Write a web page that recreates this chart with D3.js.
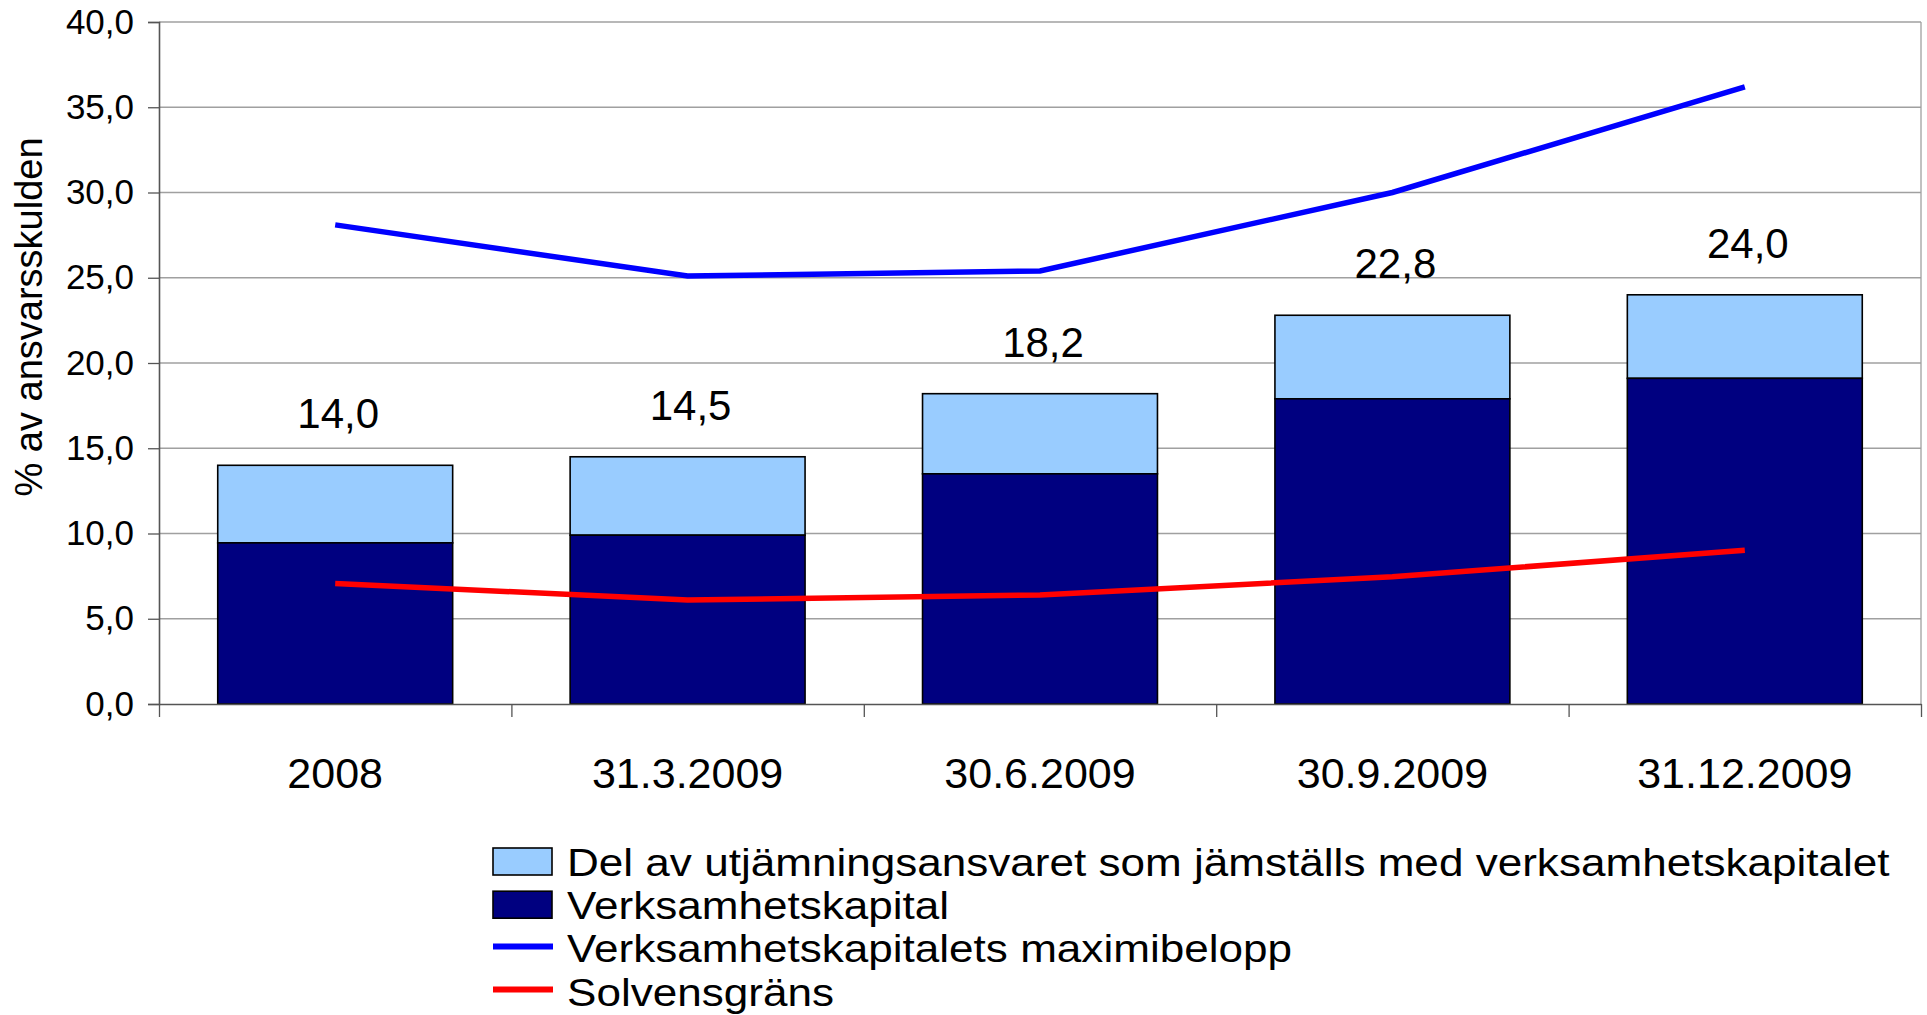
<!DOCTYPE html>
<html>
<head>
<meta charset="utf-8">
<script src="https://cdn.jsdelivr.net/npm/d3@7"></script>
<style>
  html, body { margin: 0; padding: 0; background: #fff; }
  svg { display: block; font-family: "Liberation Sans", Arial, Helvetica, sans-serif; }
</style>
</head>
<body>
<svg id="chart" width="1927" height="1015"></svg>
<script>
// ---- data ----
const categories = ["2008", "31.3.2009", "30.6.2009", "30.9.2009", "31.12.2009"];
const totalValues = [14.0, 14.5, 18.2, 22.8, 24.0];          // bar labels / stack totals
const verksamhetskapital = [9.45, 9.9, 13.5, 17.9, 19.1];    // dark bottom segment
const maximibelopp = [28.1, 25.1, 25.4, 30.0, 36.2];         // blue line
const solvensgrans = [7.07, 6.1, 6.4, 7.46, 9.02];           // red line
const yTicks = [0, 5, 10, 15, 20, 25, 30, 35, 40];
const seriesNames = [
  "Del av utjämningsansvaret som jämställs med verksamhetskapitalet",
  "Verksamhetskapital",
  "Verksamhetskapitalets maximibelopp",
  "Solvensgräns"
];
const yTitle = "% av ansvarsskulden";

// ---- layout ----
const plot = { left: 159, right: 1921, top: 22, bottom: 704 };
const colors = { light: "#99CCFF", dark: "#000080", blue: "#0000FF", red: "#FF0000" };

const svg = d3.select("#chart");

const x = d3.scaleBand().domain(categories).range([plot.left, plot.right])
  .paddingInner(1/3).paddingOuter(1/6);
const y = d3.scaleLinear().domain([0, 40]).range([plot.bottom, plot.top]);
const xb = d3.scaleLinear().domain([0, categories.length]).range([plot.left, plot.right]);

const fmt = v => v.toFixed(1).replace(".", ",");

// gridlines
svg.append("g").selectAll("line").data(yTicks.filter(d => d > 0)).join("line")
  .attr("x1", plot.left).attr("x2", plot.right)
  .attr("y1", d => y(d)).attr("y2", d => y(d))
  .attr("stroke", "#a0a0a0").attr("stroke-width", 1.3);
// right border
svg.append("line").attr("x1", plot.right).attr("x2", plot.right)
  .attr("y1", plot.top).attr("y2", plot.bottom)
  .attr("stroke", "#a0a0a0").attr("stroke-width", 1.3);

// stacked bars
const rows = categories.map((c, i) => ({
  cat: c, dark: verksamhetskapital[i], total: totalValues[i]
}));
const bars = svg.append("g");
bars.selectAll("rect.light").data(rows).join("rect").attr("class", "light")
  .attr("x", d => x(d.cat)).attr("width", x.bandwidth())
  .attr("y", d => y(d.total)).attr("height", d => y(d.dark) - y(d.total))
  .attr("fill", colors.light).attr("stroke", "#000").attr("stroke-width", 1.6);
bars.selectAll("rect.dark").data(rows).join("rect").attr("class", "dark")
  .attr("x", d => x(d.cat)).attr("width", x.bandwidth())
  .attr("y", d => y(d.dark)).attr("height", d => y(0) - y(d.dark))
  .attr("fill", colors.dark).attr("stroke", "#000").attr("stroke-width", 1.6);

// axes
const yAxis = d3.axisLeft(y).tickValues(yTicks).tickFormat(fmt).tickSize(11).tickPadding(14);
const gy = svg.append("g").attr("transform", `translate(${plot.left},0)`).call(yAxis);
gy.select(".domain").attr("stroke", "#555").attr("stroke-width", 1.6);
gy.selectAll(".tick line").attr("stroke", "#555").attr("stroke-width", 1.3);
gy.selectAll(".tick text").attr("font-size", 35).attr("fill", "#000")
  .attr("font-family", "Liberation Sans, Arial, sans-serif");

const xAxis = d3.axisBottom(xb).tickValues(d3.range(categories.length + 1))
  .tickFormat("").tickSize(13).tickSizeOuter(0);
const gx = svg.append("g").attr("transform", `translate(0,${plot.bottom})`).call(xAxis);
gx.select(".domain").attr("stroke", "#555").attr("stroke-width", 1.6);
gx.selectAll(".tick line").attr("stroke", "#555").attr("stroke-width", 1.3);

// category labels
svg.append("g").selectAll("text").data(categories).join("text")
  .attr("x", d => x(d) + x.bandwidth() / 2).attr("y", 788)
  .attr("text-anchor", "middle").attr("font-size", 43).attr("fill", "#000")
  .text(d => d);

// lines
const line = d3.line().x((d, i) => x(categories[i]) + x.bandwidth() / 2).y(d => y(d));
svg.append("path").datum(maximibelopp).attr("d", line)
  .attr("fill", "none").attr("stroke", colors.blue).attr("stroke-width", 5.5);
svg.append("path").datum(solvensgrans).attr("d", line)
  .attr("fill", "none").attr("stroke", colors.red).attr("stroke-width", 5.5);

// value labels
svg.append("g").selectAll("text").data(rows).join("text")
  .attr("x", d => x(d.cat) + x.bandwidth() / 2 + 3).attr("y", d => y(d.total) - 37)
  .attr("text-anchor", "middle").attr("font-size", 42).attr("fill", "#000")
  .text(d => fmt(d.total));

// y title
svg.append("text").attr("transform", "translate(42,317) rotate(-90)")
  .attr("text-anchor", "middle").attr("font-size", 38).attr("fill", "#000")
  .text(yTitle);

// legend
const legend = svg.append("g");
const lx = 493, ly0 = 861.5, lstep = 43.2;
seriesNames.forEach((name, i) => {
  const cy = ly0 + i * lstep;
  if (i < 2) {
    legend.append("rect").attr("x", lx).attr("y", cy - 13.5).attr("width", 59).attr("height", 27)
      .attr("fill", i === 0 ? colors.light : colors.dark).attr("stroke", "#000").attr("stroke-width", 1.6);
  } else {
    legend.append("line").attr("x1", lx).attr("x2", lx + 60).attr("y1", cy - 1.5).attr("y2", cy - 1.5)
      .attr("stroke", i === 2 ? colors.blue : colors.red).attr("stroke-width", 6);
  }
  legend.append("text").attr("transform", `translate(567,${cy + 14.5}) scale(1.16,1)`)
    .attr("font-size", 38).attr("fill", "#000").text(name);
});
</script>
</body>
</html>
